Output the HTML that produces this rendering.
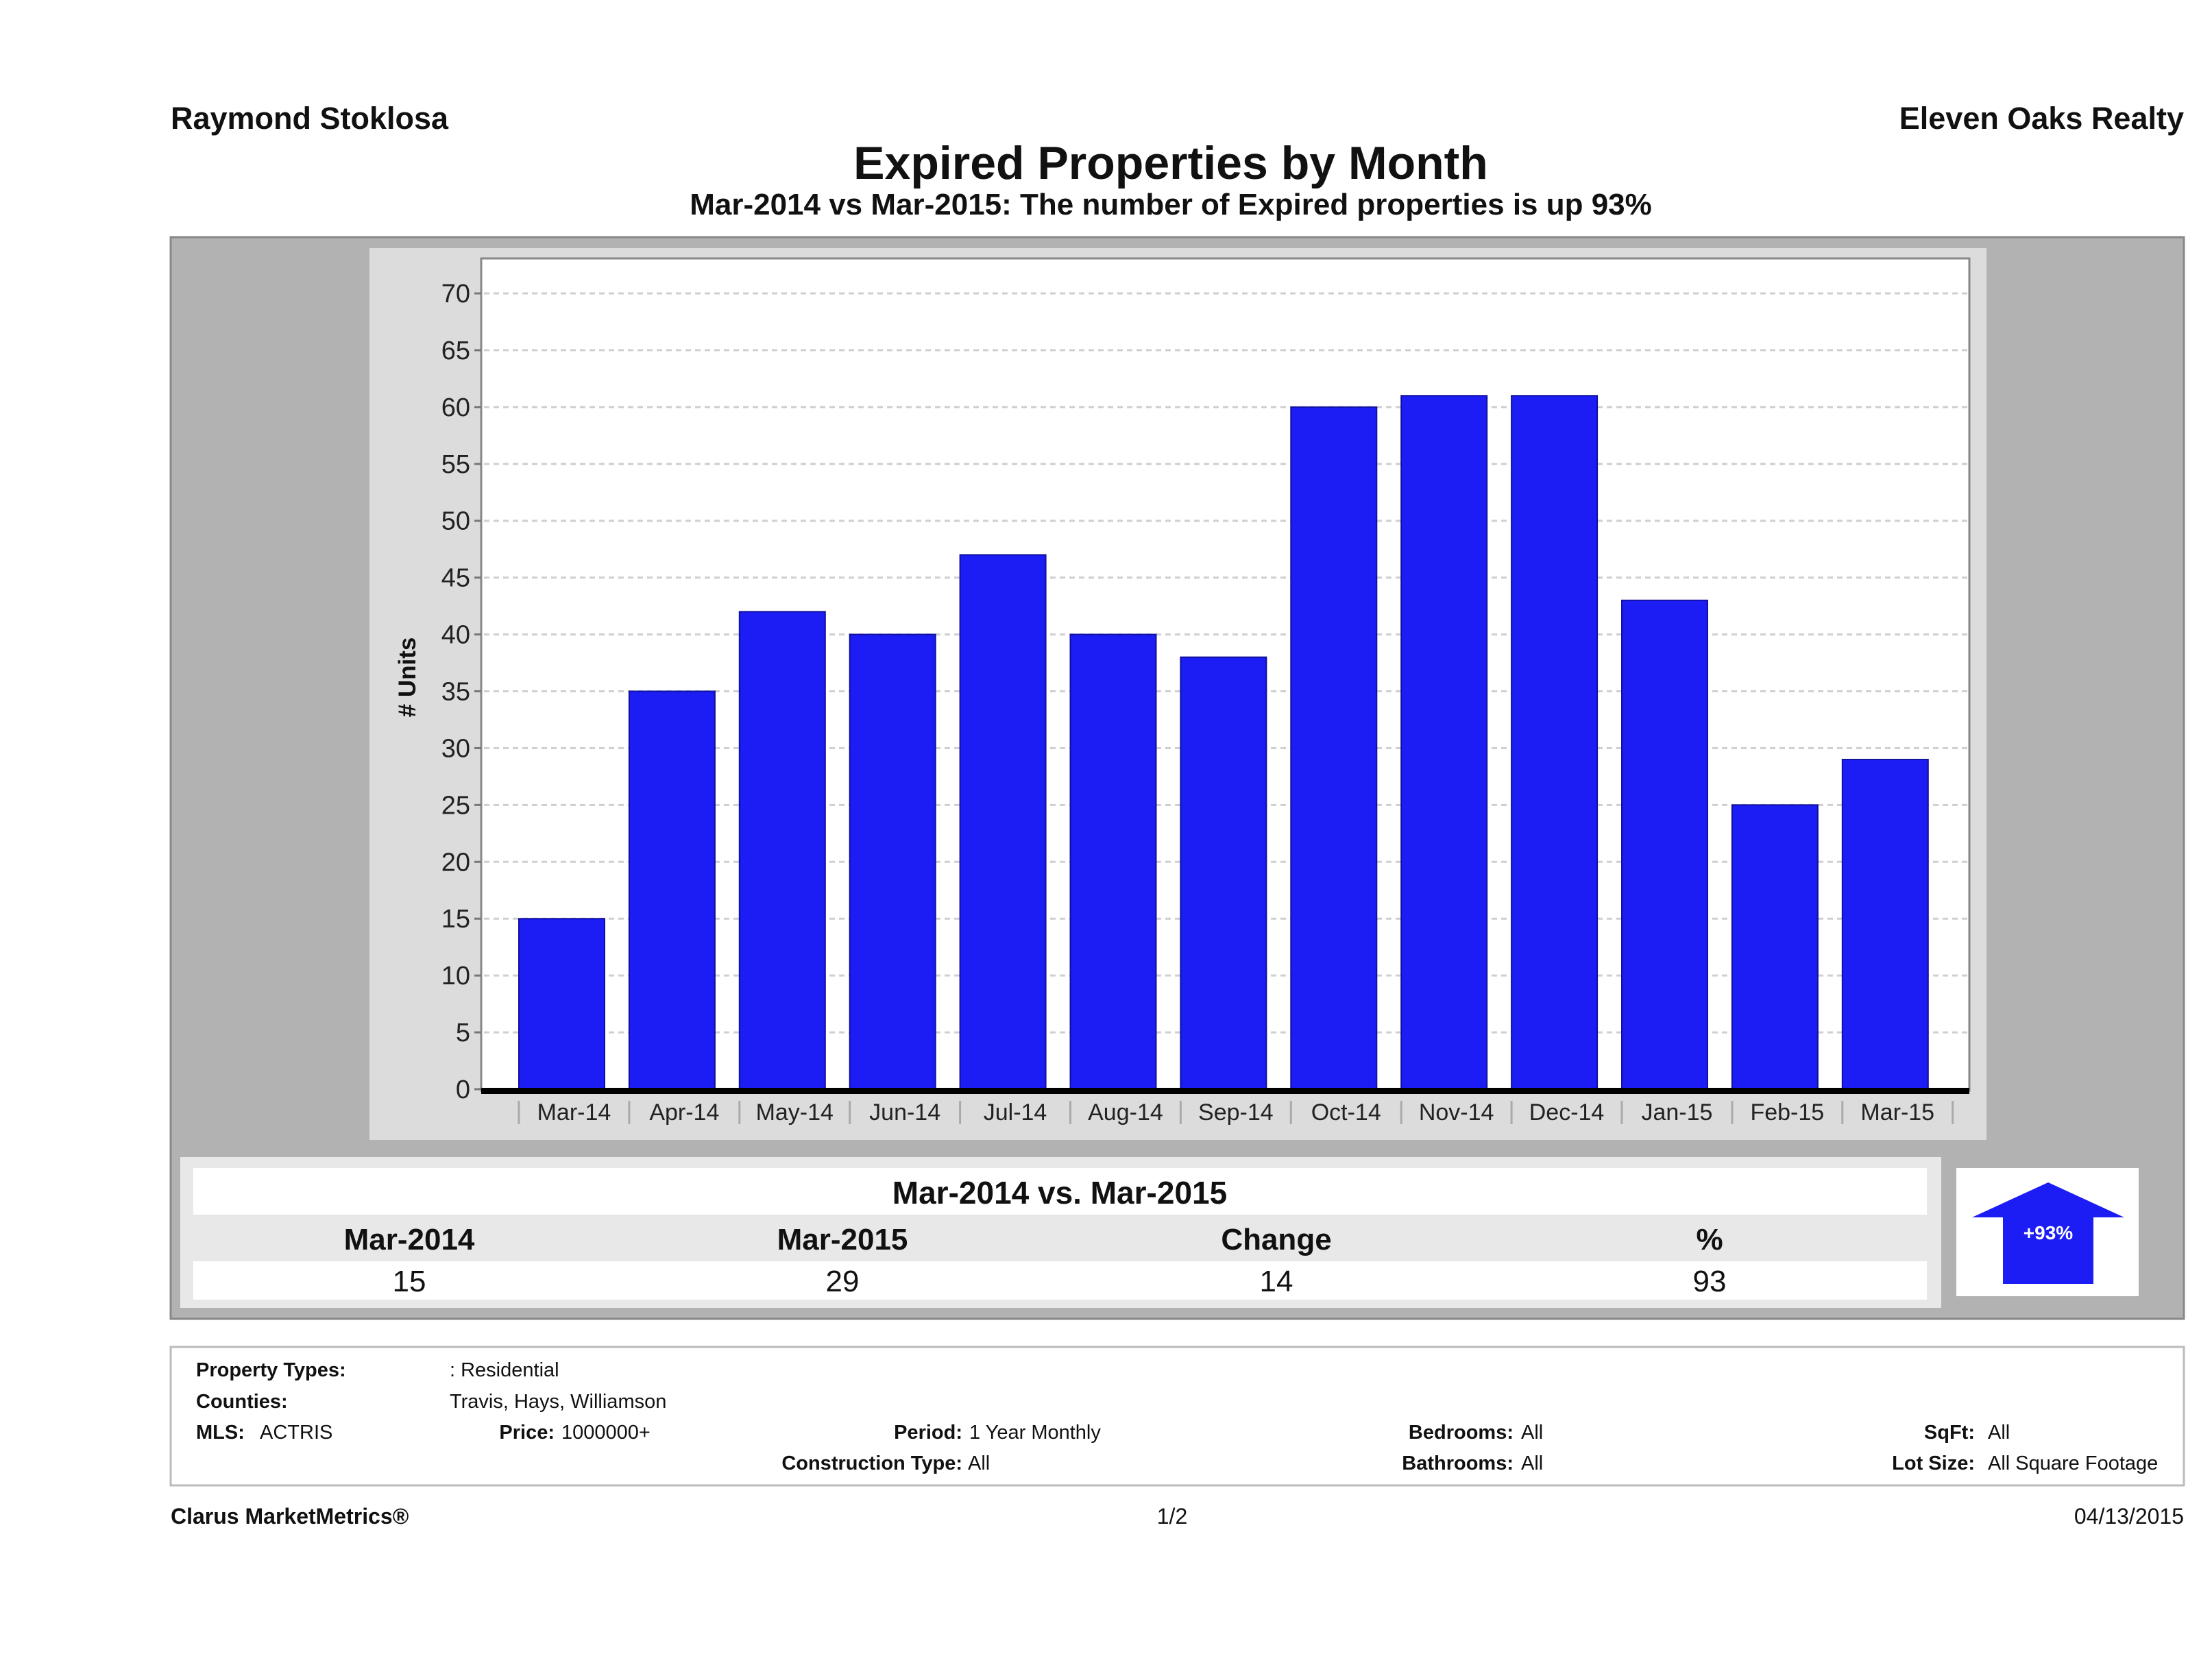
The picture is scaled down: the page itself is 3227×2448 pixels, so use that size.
<!DOCTYPE html>
<html><head><meta charset="utf-8"><style>
html,body{margin:0;padding:0;background:#fff;}
svg{display:block;font-family:"Liberation Sans","DejaVu Sans",sans-serif;}
</style></head><body>
<svg id="chart" width="3227" height="2448" viewBox="0 0 3227 2448">
<text x="249" y="188" font-size="45" font-weight="bold" fill="#111">Raymond Stoklosa</text>
<text x="3186" y="188" font-size="45" font-weight="bold" fill="#111" text-anchor="end">Eleven Oaks Realty</text>
<text x="1708" y="261" font-size="68" font-weight="bold" fill="#111" text-anchor="middle">Expired Properties by Month</text>
<text x="1708" y="313" font-size="44" font-weight="bold" fill="#111" text-anchor="middle">Mar-2014 vs Mar-2015: The number of Expired  properties is up 93%</text>

<rect x="249" y="346" width="2937" height="1578" fill="#b2b2b2" stroke="#888" stroke-width="3"/>
<rect x="539" y="362" width="2359" height="1301" fill="#dcdcdc"/>
<rect x="702" y="377" width="2171" height="1214" fill="#fff" stroke="#888" stroke-width="3"/>
<g id="grid"></g><g id="bars"></g><g id="yaxis"></g><g id="xaxis"></g>
<text transform="translate(606,988) rotate(-90)" font-size="35" font-weight="bold" text-anchor="middle" fill="#111"># Units</text>

<rect x="263" y="1688" width="2569" height="220" fill="#e8e8e8"/>
<rect x="282" y="1704" width="2529" height="68" fill="#fff"/>
<rect x="282" y="1840" width="2529" height="56" fill="#fff"/>
<text x="1546" y="1756" font-size="46" font-weight="bold" text-anchor="middle" fill="#111">Mar-2014 vs. Mar-2015</text>
<g font-size="44" text-anchor="middle" fill="#111">
<text x="597" y="1823" font-weight="bold">Mar-2014</text>
<text x="1229" y="1823" font-weight="bold">Mar-2015</text>
<text x="1862" y="1823" font-weight="bold">Change</text>
<text x="2494" y="1823" font-weight="bold">%</text>
<text x="597" y="1884">15</text>
<text x="1229" y="1884">29</text>
<text x="1862" y="1884">14</text>
<text x="2494" y="1884">93</text>
</g>
<rect x="2854" y="1704" width="266" height="187" fill="#fff"/>
<polygon points="2988,1725 3099,1776 3054,1776 3054,1873 2922,1873 2922,1776 2877,1776" fill="#1c1cf5"/>
<text x="2988" y="1808" font-size="28" font-weight="bold" fill="#fff" text-anchor="middle">+93%</text>

<rect x="249" y="1965" width="2937" height="202" fill="#fff" stroke="#bbb" stroke-width="3"/>
<g font-size="29" fill="#111">
<text x="286" y="2008" font-weight="bold">Property Types:</text>
<text x="656" y="2008">: Residential</text>
<text x="286" y="2054" font-weight="bold">Counties:</text>
<text x="656" y="2054">Travis, Hays, Williamson</text>
<text x="286" y="2099" font-weight="bold">MLS:</text>
<text x="379" y="2099">ACTRIS</text>
<text x="809" y="2099" font-weight="bold" text-anchor="end">Price:</text>
<text x="819" y="2099">1000000+</text>
<text x="1404" y="2099" font-weight="bold" text-anchor="end">Period:</text>
<text x="1414" y="2099">1 Year Monthly</text>
<text x="1404" y="2144" font-weight="bold" text-anchor="end">Construction Type:</text>
<text x="1412" y="2144">All</text>
<text x="2208" y="2099" font-weight="bold" text-anchor="end">Bedrooms:</text>
<text x="2219" y="2099">All</text>
<text x="2208" y="2144" font-weight="bold" text-anchor="end">Bathrooms:</text>
<text x="2219" y="2144">All</text>
<text x="2881" y="2099" font-weight="bold" text-anchor="end">SqFt:</text>
<text x="2900" y="2099">All</text>
<text x="2881" y="2144" font-weight="bold" text-anchor="end">Lot Size:</text>
<text x="2900" y="2144">All Square Footage</text>
</g>
<text x="249" y="2223" font-size="32" font-weight="bold" fill="#111">Clarus MarketMetrics®</text>
<text x="1710" y="2223" font-size="32" fill="#111" text-anchor="middle">1/2</text>
<text x="3186" y="2223" font-size="32" fill="#111" text-anchor="end">04/13/2015</text>
</svg>
<script>
const categories = ["Mar-14","Apr-14","May-14","Jun-14","Jul-14","Aug-14","Sep-14","Oct-14","Nov-14","Dec-14","Jan-15","Feb-15","Mar-15"];
const expiredCounts = [15,35,42,40,47,40,38,60,61,61,43,25,29];
const yTicks = [0,5,10,15,20,25,30,35,40,45,50,55,60,65,70];

const NS = "http://www.w3.org/2000/svg";
const plotL = 702, plotR = 2873, y0px = 1589, y70px = 428;
const yMax = 70;
function yScale(v){ return y0px - (v / yMax) * (y0px - y70px); }
const bandStart = 757, band = 160.9, barW = 125;
function xScale(i){ return bandStart + i * band; }
function mk(tag, attrs, parent){
  const el = document.createElementNS(NS, tag);
  for (const k in attrs) el.setAttribute(k, attrs[k]);
  parent.appendChild(el);
  return el;
}
const grid = document.getElementById("grid");
const bars = document.getElementById("bars");
const yaxis = document.getElementById("yaxis");
const xaxis = document.getElementById("xaxis");

yTicks.forEach(t => {
  const y = yScale(t);
  if (t > 0) {
    const g = mk("line", {x1: plotL + 4, x2: plotR, y1: y, y2: y, stroke: "#cfcfcf", "stroke-width": 3, "stroke-dasharray": "8,6"}, grid);
    
    
  }
  const tk = mk("line", {x1: plotL - 10, x2: plotL, y1: y, y2: y, stroke: "#777", "stroke-width": 3}, yaxis);
  
  
  const tx = mk("text", {x: plotL - 16, y: y + 13, "font-size": 38, "text-anchor": "end", fill: "#222"}, yaxis);
  tx.textContent = t;
  
  
});

categories.forEach((c, i) => {
  const v = expiredCounts[i];
  const x = xScale(i);
  const r = mk("rect", {x: x, y: yScale(v), width: barW, height: y0px - yScale(v), fill: "#1c1cf5", stroke: "#1010a0", "stroke-width": 2}, bars);
  
  
  const sep = mk("line", {x1: x, x2: x, y1: 1606, y2: 1640, stroke: "#aaa", "stroke-width": 3}, xaxis);
  
  
  const t = mk("text", {x: x + band / 2, y: 1634, "font-size": 34, "text-anchor": "middle", fill: "#222"}, xaxis);
  t.textContent = c;
  
  
});
const lastSep = mk("line", {x1: xScale(categories.length), x2: xScale(categories.length), y1: 1606, y2: 1640, stroke: "#aaa", "stroke-width": 3}, xaxis);


const base = mk("rect", {x: plotL, y: y0px - 2, width: plotR - plotL, height: 9, fill: "#000"}, xaxis);


</script>
</body></html>
